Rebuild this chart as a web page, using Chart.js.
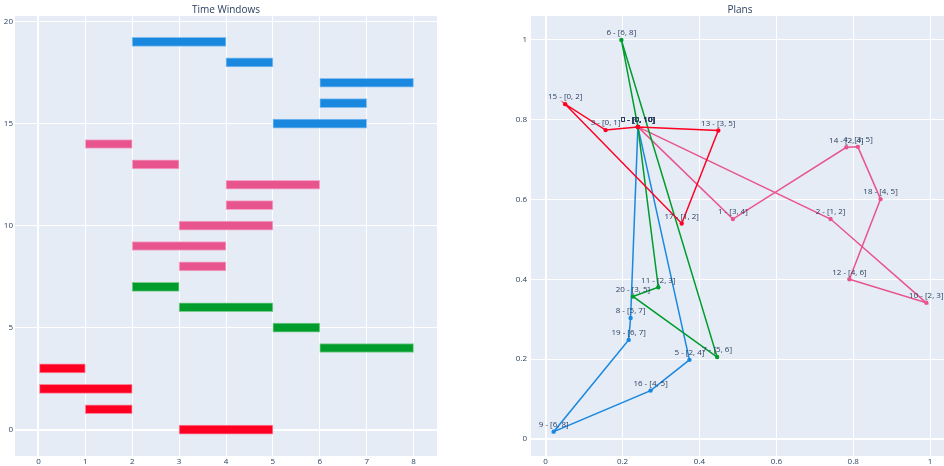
<!DOCTYPE html>
<html>
<head>
<meta charset="utf-8">
<script src="https://cdn.jsdelivr.net/npm/chart.js@4"></script>
<style>
  html, body { margin: 0; padding: 0; background: #fff; overflow: hidden; }
  #wrapLeft { position: absolute; left: 0; top: 0; width: 470px; height: 466px; }
  #wrapRight { position: absolute; left: 470px; top: 0; width: 483px; height: 466px; }
</style>
</head>
<body>
<div id="wrapLeft"><canvas id="chart_timeWindows" width="470" height="466"></canvas></div>
<div id="wrapRight"><canvas id="chart_plans" width="483" height="466"></canvas></div>
<script>
// node data, indexed by node id (0 is the depot)
var nodeX = [0.240, 0.487, 0.741, 0.156, 0.812, 0.374, 0.197, 0.446, 0.221, 0.021, 0.990,
             0.293, 0.790, 0.449, 0.782, 0.051, 0.273, 0.354, 0.871, 0.216, 0.227];
var nodeY = [0.782, 0.551, 0.551, 0.774, 0.732, 0.198, 1.000, 0.205, 0.303, 0.018, 0.341,
             0.380, 0.400, 0.773, 0.731, 0.839, 0.121, 0.540, 0.601, 0.248, 0.357];
var windowStart = [0, 3, 1, 0, 3, 2, 6, 5, 5, 6, 2, 2, 4, 3, 2, 0, 4, 1, 4, 6, 3];
var windowEnd   = [10, 4, 2, 1, 5, 4, 8, 6, 7, 8, 3, 3, 6, 5, 4, 2, 5, 2, 5, 7, 5];

// routes (plans), each starts and ends at the depot
var routeRed   = [0, 13, 17, 15, 3, 0];
var routeGreen = [0, 6, 7, 20, 11, 0];
var routePink  = [0, 1, 14, 4, 18, 12, 10, 2, 0];
var routeBlue  = [0, 8, 19, 9, 16, 5, 0];

var routes = [routeRed, routeGreen, routePink, routeBlue];
var routeColors = ['#ff0022', '#009c2c', '#e8558e', '#1a88df'];
var routeBorders = ['rgba(255,120,140,0.9)', 'rgba(110,200,130,0.9)', 'rgba(245,160,195,0.9)', 'rgba(120,185,240,0.9)'];

var xTicksLeft = [0, 1, 2, 3, 4, 5, 6, 7, 8];
var yTicksLeft = [0, 5, 10, 15, 20];

var FONT = '"Open Sans", "DejaVu Sans", sans-serif';
var TEXT = '#2a3f5f';

function nodeLabel(id) {
  return id + ' - [' + windowStart[id] + ', ' + windowEnd[id] + ']';
}

// time window bars: one row per visited customer, in route order
var barDatasets = [];
var row = 0;
routes.forEach(function (route, r) {
  var data = [];
  route.forEach(function (id) {
    if (id === 0) return;
    data.push({ y: row, x: [windowStart[id], windowEnd[id]] });
    row++;
  });
  barDatasets.push({
    data: data,
    backgroundColor: routeColors[r],
    borderColor: routeBorders[r],
    borderWidth: 1,
    borderSkipped: false,
    barThickness: 9,
    grouped: false
  });
});

var lineDatasets = routes.map(function (route, r) {
  return {
    data: route.map(function (id) { return { x: nodeX[id], y: nodeY[id], label: nodeLabel(id) }; }),
    showLine: true,
    borderColor: routeColors[r],
    backgroundColor: routeColors[r],
    borderWidth: 1.5,
    pointRadius: 2.2,
    pointBorderWidth: 0
  };
});

var plotBg = {
  id: 'plotBg',
  beforeDraw: function (chart) {
    var ctx = chart.ctx, a = chart.chartArea;
    ctx.save();
    ctx.fillStyle = '#e5ecf6';
    ctx.fillRect(a.left, a.top, a.right - a.left, a.bottom - a.top);
    ctx.restore();
  }
};

function titlePlugin(text) {
  return {
    id: 'plotTitle',
    afterDraw: function (chart) {
      var ctx = chart.ctx, a = chart.chartArea;
      ctx.save();
      ctx.font = '10px ' + FONT;
      ctx.fillStyle = TEXT;
      ctx.textAlign = 'center';
      ctx.textBaseline = 'middle';
      ctx.fillText(text, (a.left + a.right) / 2, 10);
      ctx.restore();
    }
  };
}

var pointLabels = {
  id: 'pointLabels',
  afterDatasetsDraw: function (chart) {
    var ctx = chart.ctx;
    ctx.save();
    ctx.font = '8px ' + FONT;
    ctx.fillStyle = TEXT;
    ctx.textAlign = 'center';
    ctx.textBaseline = 'middle';
    chart.data.datasets.forEach(function (ds, i) {
      chart.getDatasetMeta(i).data.forEach(function (pt, j) {
        ctx.fillText(ds.data[j].label, pt.x, pt.y - 7);
      });
    });
    ctx.restore();
  }
};

function gridOpts() {
  return {
    color: '#ffffff',
    offset: false,
    lineWidth: function (c) { return c.tick && c.tick.value === 0 ? 2 : 1; },
    drawTicks: false
  };
}

var chart_timeWindows = new Chart(document.getElementById('chart_timeWindows'), {
  type: 'bar',
  data: { datasets: barDatasets },
  options: {
    animation: false,
    responsive: false,
    indexAxis: 'y',
    layout: { padding: { top: 16, right: 33, bottom: 0, left: 0 } },
    plugins: { legend: { display: false }, tooltip: { enabled: false } },
    scales: {
      x: {
        type: 'linear',
        min: -0.5,
        max: 8.5,
        offset: false,
        afterBuildTicks: function (s) { s.ticks = xTicksLeft.map(function (v) { return { value: v }; }); },
        afterFit: function (s) { s.height = 10; },
        grid: gridOpts(),
        border: { display: false },
        ticks: { font: { size: 8, family: FONT }, color: TEXT, padding: 1, maxRotation: 0 }
      },
      y: {
        type: 'linear',
        min: -1.29,
        max: 20.27,
        offset: false,
        afterBuildTicks: function (s) { s.ticks = yTicksLeft.map(function (v) { return { value: v }; }); },
        afterFit: function (s) { s.width = 15; },
        grid: gridOpts(),
        border: { display: false },
        ticks: { font: { size: 8, family: FONT }, color: TEXT, padding: 2 }
      }
    }
  },
  plugins: [plotBg, titlePlugin('Time Windows')]
});

var xTicksRight = [0, 0.2, 0.4, 0.6, 0.8, 1];
var yTicksRight = [0, 0.2, 0.4, 0.6, 0.8, 1];

var chart_plans = new Chart(document.getElementById('chart_plans'), {
  type: 'scatter',
  data: { datasets: lineDatasets },
  options: {
    animation: false,
    responsive: false,
    layout: { padding: { top: 16, right: 0, bottom: 0, left: 0 } },
    plugins: { legend: { display: false }, tooltip: { enabled: false } },
    scales: {
      x: {
        type: 'linear',
        min: -0.038,
        max: 1.049,
        afterBuildTicks: function (s) { s.ticks = xTicksRight.map(function (v) { return { value: v }; }); },
        afterFit: function (s) { s.height = 10; },
        grid: gridOpts(),
        border: { display: false },
        ticks: { font: { size: 8, family: FONT }, color: TEXT, padding: 1, maxRotation: 0,
                 callback: function (v) { return String(+v.toFixed(1)); } }
      },
      y: {
        type: 'linear',
        min: -0.043,
        max: 1.06,
        afterBuildTicks: function (s) { s.ticks = yTicksRight.map(function (v) { return { value: v }; }); },
        afterFit: function (s) { s.width = 61; },
        grid: gridOpts(),
        border: { display: false },
        ticks: { font: { size: 8, family: FONT }, color: TEXT, padding: 4,
                 callback: function (v) { return String(+v.toFixed(1)); } }
      }
    }
  },
  plugins: [plotBg, titlePlugin('Plans'), pointLabels]
});
</script>
</body>
</html>
